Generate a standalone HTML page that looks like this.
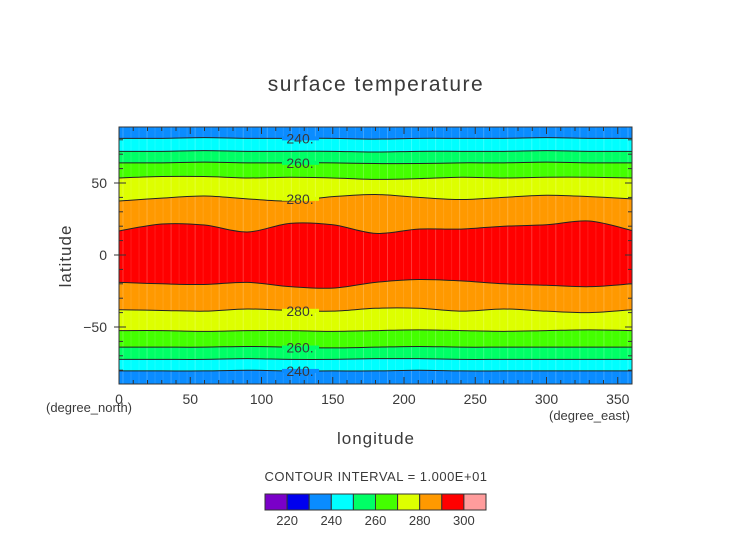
<!DOCTYPE html>
<html><head><meta charset="utf-8"><style>
body{margin:0;background:#fff;}
svg text{font-family:"Liberation Sans",sans-serif;fill:#3a3a3a;}
</style></head><body>
<svg id="c" width="752" height="532" viewBox="0 0 752 532" xmlns="http://www.w3.org/2000/svg">
<text x="376" y="91" text-anchor="middle" font-size="21" letter-spacing="1.5" fill="#444">surface temperature</text>
<g id="plot"></g>
<text transform="translate(71,256) rotate(-90)" text-anchor="middle" font-size="17" letter-spacing="1">latitude</text>
<text x="376" y="444" text-anchor="middle" font-size="17" letter-spacing="1">longitude</text>
<text x="46" y="412" font-size="13">(degree_north)</text>
<text x="549" y="420" font-size="13">(degree_east)</text>
<text x="376" y="481" text-anchor="middle" font-size="13" letter-spacing="0.5">CONTOUR INTERVAL = 1.000E+01</text>
<g id="cbar"></g>
</svg>
<script>
const lons=[0,30,60,90,120,150,180,210,240,270,300,330,360];
const levels=[240,250,260,270,280,290];
const northLats=[
 [81,81,81.5,81,81,81,80.5,81,81,81,81.5,81,81],
 [72,72,72.5,72,72,72,71.5,72,72,72,72.5,72,72],
 [64,64,64.5,64,64,64,63.5,63.5,64,64,64.5,64,64],
 [53.5,54.5,54.5,53.5,54,53.5,52.5,53,54,53.5,54,54,53.5],
 [37.5,39.5,41,39,37.5,40.5,42,40,38.5,40,41.5,40.5,39],
 [16.7,21.5,20.8,16,22,21,15,18,18,20,21,23.6,17]];
const southLats=[
 [-80.5,-80.5,-80.5,-80,-80.5,-80.5,-80.5,-80,-80.5,-80.5,-80.5,-80.5,-80.5],
 [-72.5,-72.5,-72.5,-72,-72.5,-72.5,-72,-72,-72.5,-72.5,-72.5,-72.5,-72.5],
 [-64,-64,-64,-63.5,-64,-64.5,-64,-63.5,-64,-64,-64,-64,-64],
 [-52.5,-52.5,-53,-52.5,-52.5,-53,-52.5,-52,-52.5,-53,-52.5,-52,-52.5],
 [-38,-38.5,-39,-37.5,-38.5,-39,-37,-37,-39,-37.5,-39,-40,-38],
 [-19,-20,-20.5,-19,-22,-23,-19,-17,-18,-20,-21,-22,-20]];
const cbarLevels=[210,220,230,240,250,260,270,280,290,300,310];
const cbarColors=["#7a00c8","#0000ee","#0a8cff","#00ffff","#00ff66","#44ff00","#ddff00","#ff9900","#ff0000","#ff9c9c"];
const xTicks=[0,50,100,150,200,250,300,350];
const yTicks=[-50,0,50];

const X0=119,X1=632,Y0=127,Y1=384;
const xs=l=>X0+(l/360)*(X1-X0);
const ys=la=>255-la*1.44;
const ns="http://www.w3.org/2000/svg";
function mk(t,a,p){const e=document.createElementNS(ns,t);for(const k in a)e.setAttribute(k,a[k]);p.appendChild(e);return e;}
function smooth(pts){let d='M'+pts[0][0]+','+pts[0][1];for(let i=0;i<pts.length-1;i++){const p0=pts[Math.max(0,i-1)],p1=pts[i],p2=pts[i+1],p3=pts[Math.min(pts.length-1,i+2)];d+=' C'+(p1[0]+(p2[0]-p0[0])/6)+','+(p1[1]+(p2[1]-p0[1])/6)+' '+(p2[0]-(p3[0]-p1[0])/6)+','+(p2[1]-(p3[1]-p1[1])/6)+' '+p2[0]+','+p2[1];}return d;}
const plot=document.getElementById('plot');
const bg=mk('rect',{x:X0,y:Y0,width:X1-X0,height:Y1-Y0,fill:cbarColors[2]},plot);


levels.forEach((lv,k)=>{
  const np=lons.map((l,i)=>[xs(l),ys(northLats[k][i])]);
  const sp=lons.map((l,i)=>[xs(l),ys(southLats[k][i])]).reverse();
  const d=smooth(np)+' L'+smooth(sp).slice(1)+' Z';
  const ci=cbarLevels.indexOf(lv);
  const p=mk('path',{d:d,fill:cbarColors[ci]},plot);
  
  
});
for(let l=2.8;l<360;l+=5.625){
  const s=mk('line',{x1:xs(l),x2:xs(l),y1:Y0,y2:Y1,stroke:'#fff','stroke-opacity':(Math.round(l/5.625)%3?0.1:0.22),'stroke-width':1},plot);
  
  
}
levels.forEach((lv,k)=>{
  [northLats[k],southLats[k]].forEach((arr,h)=>{
    const ln=mk('path',{d:smooth(lons.map((l,i)=>[xs(l),ys(arr[i])])),fill:'none',stroke:'#222','stroke-width':1},plot);
    
    
  });
});
[[0,0],[2,0],[4,0],[4,1],[2,1],[0,1]].forEach(([k,h])=>{
  const arr=h?southLats[k]:northLats[k];
  const y=ys((arr[4]+arr[5])/2);
  const ci=cbarLevels.indexOf(levels[k]);
  mk('rect',{x:282,y:y-2,width:37,height:4,fill:cbarColors[h?ci-1:ci-1]},plot);
  const t=mk('text',{x:300,y:y+5,'text-anchor':'middle','font-size':14,fill:'#222'},plot);
  t.textContent=levels[k]+'.';
  
  
});
const fr=mk('rect',{x:X0,y:Y0,width:X1-X0,height:Y1-Y0,fill:'none',stroke:'#333','stroke-width':1},plot);


xTicks.forEach(v=>{
  const x=xs(v);
  mk('line',{x1:x,x2:x,y1:Y1,y2:Y1-7,stroke:'#333'},plot);
  mk('line',{x1:x,x2:x,y1:Y0,y2:Y0+7,stroke:'#333'},plot);
  const t=mk('text',{x:x,y:Y1+20,'text-anchor':'middle','font-size':14},plot);
  t.textContent=v;
  
  
});
for(let v=10;v<360;v+=10){if(v%50){const x=xs(v);mk('line',{x1:x,x2:x,y1:Y1,y2:Y1-4,stroke:'#333'},plot);mk('line',{x1:x,x2:x,y1:Y0,y2:Y0+4,stroke:'#333'},plot);}}
yTicks.forEach(v=>{
  const y=ys(v);
  mk('line',{x1:X0-5,x2:X0+7,y1:y,y2:y,stroke:'#333'},plot);
  mk('line',{x1:X1,x2:X1-7,y1:y,y2:y,stroke:'#333'},plot);
  const t=mk('text',{x:X0-12,y:y+5,'text-anchor':'end','font-size':14},plot);
  t.textContent=v<0?'\u2212'+(-v):v;
  
  
});
for(let v=-80;v<=80;v+=10){if(v%50){const y=ys(v);mk('line',{x1:X0,x2:X0+4,y1:y,y2:y,stroke:'#333'},plot);mk('line',{x1:X1,x2:X1-4,y1:y,y2:y,stroke:'#333'},plot);}}
const cb=document.getElementById('cbar');
const CX0=265,CX1=486,CY=494,CH=16;
const cw=(CX1-CX0)/cbarColors.length;
cbarColors.forEach((c,i)=>{
  const r=mk('rect',{x:CX0+i*cw,y:CY,width:cw,height:CH,fill:c,stroke:'#333','stroke-width':1},cb);
  
  
});
cbarLevels.forEach((v,i)=>{
  if(v%20===0&&i>0&&i<cbarLevels.length-1){
    const t=mk('text',{x:CX0+i*cw,y:CY+CH+15,'text-anchor':'middle','font-size':13},cb);
    t.textContent=v;
    
    
  }
});
</script>
</body></html>
